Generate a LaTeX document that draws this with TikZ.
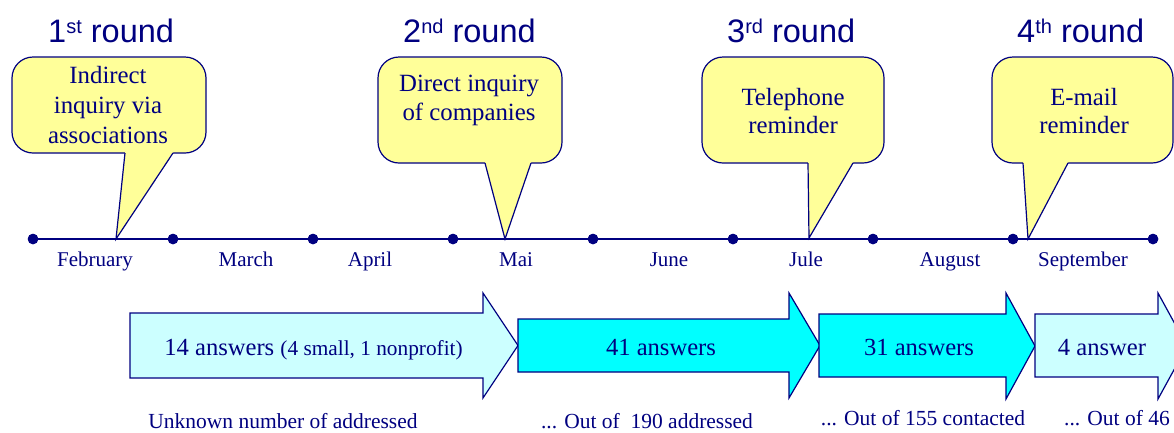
\documentclass[tikz,border=0pt]{standalone}
\usepackage{fontspec}
\setmainfont{Liberation Serif}
\newfontfamily\headfont{Liberation Sans}
\definecolor{navy}{RGB}{0,0,128}
\definecolor{calloutyellow}{RGB}{255,255,153}
\definecolor{palecyan}{RGB}{204,255,255}
\definecolor{brightcyan}{RGB}{0,255,255}
\tikzset{
  heading/.style={font=\headfont\fontsize{32.5}{36}\selectfont, text=navy, anchor=base west, inner sep=0pt},
  month/.style={font=\fontsize{21}{24}\selectfont, text=navy, anchor=base, inner sep=0pt},
  ctext/.style={font=\fontsize{24.8}{28}\selectfont, text=navy, anchor=base, inner sep=0pt},
  cbox/.style={draw=navy, line width=1.2pt, fill=calloutyellow, rounded corners=21pt, inner sep=0pt},
  pointerfill/.style={fill=calloutyellow},
  pointerline/.style={draw=navy, line width=1.2pt, line join=miter},
  barrow/.style={draw=navy, line width=1.2pt, line join=miter},
  answer/.style={font=\fontsize{24.6}{28}\selectfont, text=navy, anchor=base, inner sep=0pt},
  note/.style={font=\fontsize{21.5}{24}\selectfont, text=navy, anchor=base, inner sep=0pt},
  tdot/.style={circle, fill=navy, inner sep=0pt, minimum size=10.5pt},
}
\newcommand{\sups}[1]{\raisebox{9pt}{\fontsize{20}{20}\selectfont #1}}
\begin{document}
\begin{tikzpicture}[x=1pt,y=-1pt]
\useasboundingbox (0,0) rectangle (1174,432);
\clip (0,0) rectangle (1174,432);

% headings
\node[heading] (h1) at (48,42) {1\sups{st} round};
\node[heading] (h2) at (403,42) {2\sups{nd} round};
\node[heading] (h3) at (727,42) {3\sups{rd} round};
\node[heading] (h4) at (1017,42) {4\sups{th} round};

% timeline
\foreach \i in {0,...,8} {
  \node[tdot] (d\i) at ({33+140*\i},239) {};
}
\draw[navy, line width=1.5pt] (d0.center) -- (d8.center);
\foreach \i in {0,...,8} {
  \node[tdot] at (d\i) {};
}

% months
\node[month] (m1) at (95,266) {February};
\node[month] (m2) at (246,266) {March};
\node[month] (m3) at (370,266) {April};
\node[month] (m4) at (516,266) {Mai};
\node[month] (m5) at (669,266) {June};
\node[month] (m6) at (806,266) {Jule};
\node[month] (m7) at (950,266) {August};
\node[month] (m8) at (1083,266) {September};

% callout 1
\node[cbox, minimum width=194pt, minimum height=96pt] (b1) at (109,105) {};
\fill[pointerfill] (125,149) -- (125,153) -- (116,239) -- (173,153) -- (173,149) -- cycle;
\draw[pointerline] (125,153) -- (116,239) -- (173,153);
\node[ctext] (c1a) at (108,83) {Indirect};
\node[ctext] (c1b) at (108,113) {inquiry via};
\node[ctext] (c1c) at (108,143) {associations};

% callout 2
\node[cbox, minimum width=184pt, minimum height=106pt] (b2) at (470,110) {};
\fill[pointerfill] (485,159) -- (485,163) -- (505,239) -- (531,163) -- (531,159) -- cycle;
\draw[pointerline] (485,163) -- (505,239) -- (531,163);
\node[ctext] (c2a) at (469,91) {Direct inquiry};
\node[ctext] (c2b) at (469,120) {of companies};

% callout 3
\node[cbox, minimum width=182pt, minimum height=106pt] (b3) at (793,110) {};
\fill[pointerfill] (808,159) -- (808,163) -- (809,238) -- (853,163) -- (853,159) -- cycle;
\draw[pointerline] (808,163) -- (809,238) -- (853,163);
\node[ctext] (c3a) at (793,105) {Telephone};
\node[ctext] (c3b) at (793,133) {reminder};

% callout 4
\node[cbox, minimum width=181pt, minimum height=106pt] (b4) at (1082.5,110) {};
\fill[pointerfill] (1023,159) -- (1023,163) -- (1028,239) -- (1068,163) -- (1068,159) -- cycle;
\draw[pointerline] (1023,163) -- (1028,239) -- (1068,163);
\node[ctext] (c4a) at (1084,105) {E-mail};
\node[ctext] (c4b) at (1084,133) {reminder};

% block arrows
\draw[barrow, fill=palecyan] (130,313) -- (483,313) -- (483,293) -- (518,345.5) -- (483,398) -- (483,378) -- (130,378) -- cycle;
\draw[barrow, fill=brightcyan] (518,319) -- (789,319) -- (789,293) -- (820,345.5) -- (789,398) -- (789,372) -- (518,372) -- cycle;
\draw[barrow, fill=brightcyan] (819,314) -- (1006,314) -- (1006,293) -- (1035,346) -- (1006,399) -- (1006,377) -- (819,377) -- cycle;
\draw[barrow, fill=palecyan] (1035,314) -- (1158,314) -- (1158,293) -- (1187,346) -- (1158,399) -- (1158,377) -- (1035,377) -- cycle;

\node[answer] (a1) at (313.5,355) {14 answers {\fontsize{21.3}{24}\selectfont (4 small, 1 nonprofit)}};
\node[answer] (a2) at (661,355) {41 answers};
\node[answer] (a3) at (919,355) {31 answers};
\node[answer] (a4) at (1102,355) {4 answer};

% notes
\node[note] (n1) at (283,428.5) {Unknown number of addressed};
\node[note] (n2) at (647,428) {... Out of\ \ 190 addressed};
\node[note] (n3) at (923,425) {... Out of 155 contacted};
\node[note] (n4) at (1117,425) {... Out of 46};
\end{tikzpicture}
\end{document}
